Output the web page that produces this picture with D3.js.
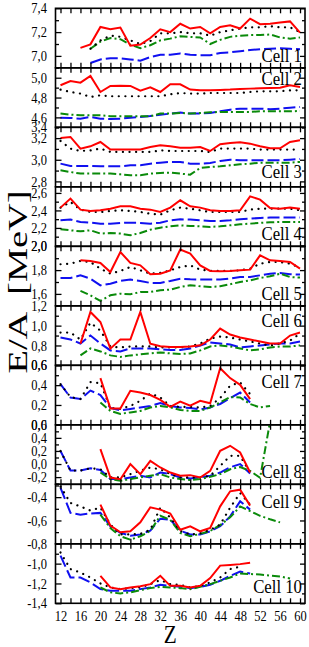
<!DOCTYPE html>
<html>
<head>
<meta charset="utf-8">
<script src="https://cdn.jsdelivr.net/npm/d3@7"></script>
<style>
  body { margin: 0; background: #fff; }
  text { font-family: "Liberation Serif", "Times New Roman", serif; }
</style>
</head>
<body>
<script>
const n = null;
const Z = [12,14,16,18,20,22,24,26,28,30,32,34,36,38,40,42,44,46,48,50,52,54,56,58,60];
const xTickLabels = [12,16,20,24,28,32,36,40,44,48,52,56,60];
const cells = ["Cell 1","Cell 2","Cell 3","Cell 4","Cell 5","Cell 6","Cell 7","Cell 8","Cell 9","Cell 10"];

const yDomains = [[6.9,7.4],[4.5,5.1],[2.75,3.3],[1.99,2.67],[1.5,2.0],[0.6,1.2],[0.0,0.6],[-0.31,0.6],[-0.8,-0.29],[-1.4,-0.8]];
const yTickLabels = [
  [7.0,7.2,7.4],[4.6,4.8,5.0],[2.8,3.0,3.2,3.4],[2.0,2.2,2.4,2.6],[1.6,1.8,2.0],
  [0.6,0.8,1.0,1.2],[0.0,0.2,0.4,0.6],[-0.2,0.0,0.2,0.4,0.6],[-0.8,-0.6,-0.4],[-1.4,-1.2,-1.0]
];

// red solid
const red1 = [n,n,7.067,7.097,7.243,7.224,7.238,7.086,7.095,7.15,7.224,7.2,7.27,7.23,7.243,7.19,7.243,7.257,7.23,7.313,7.266,7.27,7.28,7.29,7.196];
const red2 = [4.924,4.967,4.95,5.018,4.856,4.917,4.92,4.917,4.87,4.903,4.856,4.934,4.934,4.88,4.873,4.873,4.876,4.88,4.887,4.89,4.893,4.897,4.9,4.924,4.907];
const red3 = [3.201,3.211,3.103,3.124,3.164,3.094,3.094,3.094,3.094,3.118,3.134,3.124,3.112,3.112,3.118,3.081,3.143,3.155,3.161,3.149,3.124,3.106,3.106,3.164,3.18];
const red4 = [2.432,2.535,2.409,2.394,2.401,2.42,2.447,2.447,2.42,2.409,2.382,2.432,2.516,2.447,2.432,2.401,2.394,2.394,2.401,2.561,2.523,2.428,2.42,2.432,2.42];
const red5 = [n,n,1.882,1.877,1.86,1.784,1.952,1.86,1.84,1.765,1.77,1.798,1.972,1.938,1.84,1.793,1.79,1.793,1.798,1.804,1.924,1.882,1.877,1.868,1.812];
const red6 = [n,n,0.818,1.138,1.037,0.768,0.859,0.859,1.138,0.818,0.792,0.785,0.785,0.79,0.802,0.86,0.97,0.91,0.88,0.86,0.84,0.82,0.82,0.90,0.93];
const red7 = [n,n,n,n,0.471,0.165,0.165,0.343,0.326,0.30,0.252,0.181,0.235,0.192,0.242,0.218,0.571,0.471,0.403,0.259,n,n,n,n,n];
const red8 = [n,n,n,n,0.228,-0.206,-0.232,-0.002,-0.155,0.049,-0.053,-0.13,-0.18,-0.17,-0.206,-0.104,0.202,0.279,0.176,-0.13,n,n,n,n,n];
const red9 = [n,n,n,n,-0.464,-0.644,-0.701,-0.693,-0.616,-0.487,-0.507,-0.541,-0.679,-0.65,-0.693,-0.664,-0.479,-0.35,-0.336,-0.473,n,n,n,n,n];
const red10 = [n,n,n,n,-1.123,-1.24,-1.257,-1.24,-1.227,-1.207,-1.123,-1.224,-1.224,-1.24,-1.224,-1.146,-1.02,-1.013,-1.005,-0.99,n,n,n,n,n];

// black dotted
const dot1 = [n,n,n,7.06,7.13,7.17,7.16,7.13,7.10,7.125,7.19,7.19,7.2,7.19,7.19,7.17,7.2,7.215,7.23,7.24,7.24,7.25,7.24,7.24,7.2];
const dot2 = [4.88,4.856,4.84,4.806,4.823,4.813,4.813,4.813,4.813,4.813,4.813,4.833,4.846,4.84,4.84,4.846,4.846,4.846,4.846,4.856,4.863,4.863,4.863,4.873,4.873];
const dot3 = [3.174,3.103,3.081,3.087,3.103,3.072,3.072,3.072,3.072,3.072,3.087,3.081,3.081,3.081,3.081,3.072,3.103,3.103,3.103,3.103,3.094,3.094,3.094,3.094,3.094];
const dot4 = [2.432,2.497,2.409,2.382,2.382,2.394,2.401,2.394,2.382,2.363,2.352,2.401,2.432,2.42,2.401,2.382,2.382,2.382,2.382,2.409,2.42,2.42,2.42,2.42,2.401];
const dot5 = [1.849,1.854,1.877,1.868,1.812,1.77,1.793,1.826,1.798,1.77,1.776,1.798,1.826,1.84,1.804,1.793,1.793,1.793,1.798,1.812,1.854,1.868,1.868,1.854,1.821];
const dot6 = [0.93,0.93,0.86,1.03,0.95,0.79,0.78,0.79,0.79,0.79,0.78,0.78,0.78,0.79,0.82,0.87,0.89,0.88,0.86,0.84,0.82,0.80,0.82,0.85,0.92];
const dot7 = [0.41,0.28,0.26,0.43,0.42,0.17,0.16,0.19,0.242,0.316,0.276,0.19,0.18,0.18,0.175,0.19,0.27,0.395,0.427,0.31,n,n,n,n,n];
const dot8 = [0.20,-0.10,-0.10,-0.065,-0.08,-0.205,-0.205,-0.155,-0.10,-0.055,-0.08,-0.155,-0.205,-0.205,-0.205,-0.18,-0.03,0.125,0.125,-0.13,n,n,n,n,n];
const dot9 = [-0.31,-0.45,-0.48,-0.515,-0.49,-0.635,-0.72,-0.72,-0.715,-0.68,-0.49,-0.575,-0.69,-0.72,-0.71,-0.68,-0.635,-0.49,-0.365,-0.465,n,n,n,n,n];
const dot10 = [-0.887,-1.055,-1.09,-1.14,-1.2,-1.24,-1.257,-1.247,-1.24,-1.207,-1.166,-1.207,-1.213,-1.24,-1.224,-1.19,-1.14,-1.055,-1.03,n,n,n,n,n,n];

// green dash-dot
const grn1 = [n,n,n,7.06,7.12,7.15,7.14,7.095,7.065,7.09,7.13,7.145,7.165,7.16,7.155,7.10,7.135,7.16,7.17,7.175,7.175,7.18,7.155,7.145,7.155];
const grn2 = [4.638,4.628,4.621,4.621,4.621,4.611,4.611,4.611,4.611,4.611,4.638,4.638,4.645,4.638,4.645,4.651,4.655,4.655,4.655,4.655,4.661,4.661,4.661,4.661,4.665];
const grn3 = [2.902,2.887,2.872,2.872,2.872,2.872,2.865,2.856,2.856,2.872,2.878,2.881,2.872,2.862,2.924,2.933,2.939,2.949,2.958,2.964,2.973,2.973,2.973,2.973,2.98];
const grn4 = [2.184,2.173,2.161,2.173,2.135,2.142,2.135,2.116,2.142,2.18,2.203,2.219,2.23,2.222,2.219,2.211,2.219,2.23,2.241,2.249,2.257,2.264,2.268,2.268,2.268];
const grn5 = [n,n,1.625,1.588,1.541,1.588,1.602,1.597,1.616,1.616,1.63,1.636,1.658,1.672,1.664,1.658,1.664,1.681,1.7,1.714,1.734,1.748,1.77,1.742,1.737];
const grn6 = [n,n,0.70,0.77,0.74,0.70,0.685,0.70,0.71,0.72,0.73,0.72,0.715,0.72,0.75,0.79,0.80,0.79,0.77,0.75,0.76,0.78,0.79,0.79,0.80];
const grn7 = [n,n,n,n,0.225,0.14,0.11,0.125,0.14,0.175,0.19,0.175,0.15,0.14,0.14,0.175,0.225,0.28,0.275,0.21,0.175,0.19,n,n,n];
const grn8 = [n,n,n,n,-0.13,-0.23,-0.257,-0.23,-0.205,-0.18,-0.155,-0.205,-0.23,-0.245,-0.23,-0.195,-0.155,-0.08,-0.045,-0.105,-0.21,0.65,n,n,n];
const grn9 = [n,n,n,n,-0.55,-0.665,-0.735,-0.765,-0.735,-0.69,-0.56,-0.595,-0.707,-0.735,-0.715,-0.69,-0.64,-0.573,-0.48,-0.52,-0.56,-0.59,-0.616,n,n];
const grn10 = [n,n,n,n,-1.24,-1.29,-1.30,-1.29,-1.267,-1.247,-1.234,-1.24,-1.247,-1.257,-1.234,-1.207,-1.173,-1.14,-1.10,-1.105,-1.11,-1.12,-1.13,-1.15,n];

// blue dashed
const blu1 = [n,n,n,6.94,6.97,6.98,6.98,6.97,6.96,6.99,7.01,7.01,7.02,7.01,7.005,7.005,7.025,7.03,7.04,7.05,7.055,7.06,7.065,7.06,7.055];
const blu2 = [4.597,4.594,4.587,4.604,4.587,4.584,4.587,4.597,4.604,4.614,4.627,4.638,4.648,4.638,4.638,4.645,4.661,4.678,4.688,4.688,4.688,4.682,4.688,4.698,4.705];
const blu3 = [2.964,2.943,2.943,2.943,2.939,2.939,2.939,2.949,2.949,2.964,2.973,2.98,2.98,2.964,2.964,2.97,2.989,3.0,2.995,2.995,2.995,2.995,2.995,3.0,3.007];
const blu4 = [2.287,2.295,2.268,2.26,2.249,2.249,2.257,2.26,2.257,2.249,2.26,2.287,2.299,2.295,2.287,2.28,2.28,2.287,2.299,2.306,2.314,2.318,2.318,2.318,2.318];
const blu5 = [1.734,1.734,1.756,1.728,1.672,1.686,1.709,1.72,1.709,1.692,1.692,1.709,1.728,1.723,1.72,1.72,1.72,1.728,1.742,1.742,1.756,1.77,1.776,1.765,1.762];
const blu6 = [0.88,0.86,0.82,0.90,0.82,0.75,0.74,0.77,0.77,0.77,0.76,0.755,0.755,0.77,0.80,0.83,0.82,0.81,0.78,0.79,0.80,0.81,0.82,0.82,0.84];
const blu7 = [0.41,0.275,0.26,0.345,0.30,0.17,0.145,0.16,0.175,0.19,0.22,0.19,0.175,0.17,0.155,0.175,0.21,0.27,0.325,0.225,n,n,n,n,n];
const blu8 = [0.20,-0.10,-0.10,-0.065,-0.09,-0.23,-0.23,-0.205,-0.18,-0.205,-0.13,-0.155,-0.205,-0.22,-0.205,-0.18,-0.13,-0.05,0.0,-0.145,n,n,n,n,n];
const blu9 = [-0.32,-0.535,-0.55,-0.54,-0.535,-0.65,-0.707,-0.73,-0.72,-0.687,-0.585,-0.594,-0.687,-0.72,-0.72,-0.693,-0.65,-0.565,-0.436,-0.507,n,n,n,n,n];
const blu10 = [-0.92,-1.14,-1.14,-1.19,-1.257,-1.274,-1.274,-1.274,-1.257,-1.24,-1.213,-1.224,-1.234,-1.247,-1.234,-1.213,-1.173,-1.123,-1.08,-1.10,n,n,n,n,n];

const series = [
  { data: [blu1,blu2,blu3,blu4,blu5,blu6,blu7,blu8,blu9,blu10], color: '#1010f0', dash: '12,4', width: 2, cap: 'butt' },
  { data: [grn1,grn2,grn3,grn4,grn5,grn6,grn7,grn8,grn9,grn10], color: '#0a8a0a', dash: '8,3,2,3', width: 2, cap: 'butt' },
  { data: [dot1,dot2,dot3,dot4,dot5,dot6,dot7,dot8,dot9,dot10], color: '#000', dash: '0.1,6.5', width: 2.2, cap: 'round' },
  { data: [red1,red2,red3,red4,red5,red6,red7,red8,red9,red10], color: '#f00', dash: null, width: 2, cap: 'butt' }
];

const svgWidth = 309;
const svgHeight = 647;
const margin = { top: 8.3, left: 55.5, right: 4 };
const width = svgWidth - margin.left - margin.right;
const panelH = 59.5;
const sx = 0.86; // text in the picture is narrower than tall
const cellLabelY = [54, 17, 51, 53, 54, 21, 23, 53, 24, 49];

const svg = d3.select('body').append('svg')
  .attr('width', svgWidth)
  .attr('height', svgHeight);

const x = d3.scaleLinear().domain([11, 61]).range([0, width]);
const xTicks = d3.range(12, 61, 2);

const defs = svg.append('defs');

yDomains.forEach((dom, p) => {
  const g = svg.append('g')
    .attr('transform', `translate(${margin.left}, ${margin.top + p * panelH})`);

  const y = d3.scaleLinear().domain(dom).range([panelH, 0]);

  defs.append('clipPath').attr('id', 'clip' + p)
    .append('rect').attr('width', width).attr('height', panelH);

  // lines
  const line = d3.line()
    .defined(d => d != null)
    .x((d, i) => x(Z[i]))
    .y(d => y(d));

  const lines = g.append('g').attr('clip-path', `url(#clip${p})`);
  series.forEach(s => {
    lines.append('path')
      .attr('d', line(s.data[p]))
      .attr('fill', 'none')
      .attr('stroke', s.color)
      .attr('stroke-width', s.width)
      .attr('stroke-dasharray', s.dash)
      .attr('stroke-linecap', s.cap);
  });

  // inward ticks
  const minor = d3.range(Math.ceil(dom[0] * 10 - 1e-6), Math.floor(dom[1] * 10 + 1e-6) + 1)
    .map(k => k / 10)
    .filter(v => !yTickLabels[p].some(t => Math.abs(t - v) < 1e-6));
  const majorIn = yTickLabels[p].filter(v => v >= dom[0] - 1e-6 && v <= dom[1] + 1e-6);

  const tickGroups = [
    g.append('g').call(d3.axisRight(y).tickValues(majorIn).tickSize(6).tickFormat('')),
    g.append('g').call(d3.axisRight(y).tickValues(minor).tickSize(3.5).tickFormat('')),
    g.append('g').attr('transform', `translate(${width},0)`).call(d3.axisLeft(y).tickValues(majorIn).tickSize(5).tickFormat('')),
    g.append('g').attr('transform', `translate(${width},0)`).call(d3.axisLeft(y).tickValues(minor).tickSize(3).tickFormat('')),
    g.append('g').call(d3.axisBottom(x).tickValues(xTicks).tickSize(5).tickFormat('')),
    g.append('g').attr('transform', `translate(0,${panelH})`).call(d3.axisTop(x).tickValues(xTicks).tickSize(5).tickFormat(''))
  ];
  tickGroups.forEach(tg => {
    tg.select('.domain').remove();
    tg.selectAll('line').attr('stroke', '#000').attr('stroke-width', 1.3);
  });

  // tick labels (comma decimal)
  const yl = g.append('g')
    .call(d3.axisLeft(y.copy().clamp(true)).tickValues(yTickLabels[p]).tickSize(0).tickPadding(10)
      .tickFormat(d => d3.format('.1f')(d).replace('.', ',').replace('−', '-')));
  yl.select('.domain').remove();
  yl.selectAll('text')
    .attr('font-size', 14.5)
    .attr('fill', '#000')
    .attr('transform', `scale(${sx},1)`);

  // frame
  g.append('rect')
    .attr('width', width).attr('height', panelH)
    .attr('fill', 'none').attr('stroke', '#000').attr('stroke-width', 1.6);

  g.append('text')
    .attr('transform', `translate(${width - 3}, ${cellLabelY[p]}) scale(${sx},1)`)
    .attr('text-anchor', 'end')
    .attr('font-size', 19.5)
    .text(cells[p]);

  if (p === yDomains.length - 1) {
    const xa = g.append('g')
      .attr('transform', `translate(0,${panelH})`)
      .call(d3.axisBottom(x).tickValues(xTickLabels).tickSize(0).tickPadding(7.7));
    xa.select('.domain').remove();
    xa.selectAll('text')
      .attr('font-size', 14.5)
      .attr('fill', '#000')
      .attr('transform', `scale(${sx},1)`);
  }
});

// axis titles
svg.append('text')
  .attr('transform', `translate(${margin.left + x(34)}, 643) scale(0.85,1)`)
  .attr('text-anchor', 'middle')
  .attr('font-size', 25)
  .text('Z');

svg.append('text')
  .attr('transform', 'translate(27, 282) rotate(-90)')
  .attr('text-anchor', 'middle')
  .attr('font-size', 28)
  .attr('xml:space', 'preserve')
  .style('white-space', 'pre')
  .attr('textLength', 183)
  .attr('lengthAdjust', 'spacingAndGlyphs')
  .text('E/A  [MeV]');
</script>
</body>
</html>
